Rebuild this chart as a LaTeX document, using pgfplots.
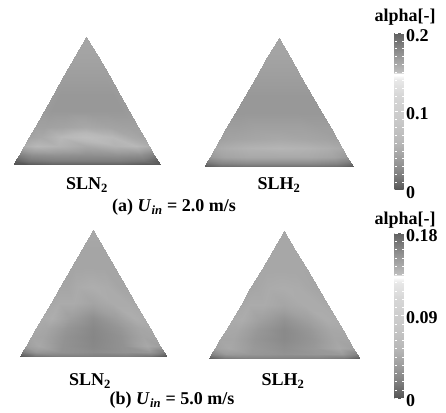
\documentclass[border=0pt]{standalone}
\usepackage{fontspec}
\setmainfont{Liberation Serif}
\usepackage{pgfplots}
\usepackage{pgfplotstable}
\pgfplotsset{compat=1.18}

\newcommand{\lbl}{\fontsize{18}{20}\selectfont\bfseries}

% grey rendering of the void-fraction colour scale
\pgfplotsset{
  colormap={alphagray}{
    gray(0cm)=(0.33); gray(10cm)=(0.42); gray(20cm)=(0.50); gray(40cm)=(0.62);
    gray(60cm)=(0.72); gray(90cm)=(0.79); gray(120cm)=(0.84); gray(140cm)=(0.91);
    gray(144cm)=(0.96); gray(146cm)=(1.0); gray(148cm)=(1.0); gray(150cm)=(0.74);
    gray(170cm)=(0.60); gray(200cm)=(0.38)
  },
  tri/.style={
    at={#1}, anchor=south west, scale only axis, hide axis, view={0}{90},
    xmin=-1, xmax=1, ymin=0, ymax=1.7321, clip=false
  },
  bar/.style={
    scale only axis, width=9pt,
    yticklabel pos=right,
    yticklabel style={font=\lbl, xshift=-1pt, yshift=-2.5pt},
    axis line style={draw=none},
    minor y tick num=9,
    tick align=inside, major tick length=3pt, minor tick length=2pt,
    tick style={color=white, line width=0.4pt}
  }
}

% cross-section mesh (rows from the bottom wall to the apex)
% A: SLN2 2.0 m/s, B: SLH2 2.0 m/s, C: SLN2 5.0 m/s, D: SLH2 5.0 m/s
\pgfplotstableread{
x y A B C D
-1 0 0 0 0.002 0.004
-0.8 0 0 0.008 0.013 0.016
-0.45 0 0.004 0.010 0.018 0.020
0 0 0.004 0.010 0.018 0.020
0.45 0 0.004 0.010 0.018 0.020
0.8 0 0 0.008 0.013 0.016
1 0 0 0 0.002 0.004
-0.97 0.0520 0.004 0.014 0.016 0.020
-0.776 0.0520 0.014 0.024 0.032 0.034
-0.4365 0.0520 0.018 0.028 0.029 0.032
0 0.0520 0.018 0.028 0.025 0.029
0.4365 0.0520 0.018 0.028 0.029 0.032
0.776 0.0520 0.014 0.024 0.032 0.034
0.97 0.0520 0.004 0.014 0.016 0.020
-0.92 0.1386 0.020 0.036 0.036 0.038
-0.736 0.1386 0.030 0.044 0.043 0.043
-0.414 0.1386 0.032 0.048 0.029 0.033
0 0.1386 0.030 0.048 0.023 0.027
0.414 0.1386 0.032 0.048 0.029 0.033
0.736 0.1386 0.030 0.044 0.043 0.043
0.92 0.1386 0.020 0.036 0.036 0.038
-0.85 0.2598 0.052 0.048 0.041 0.041
-0.68 0.2598 0.060 0.052 0.040 0.041
-0.3825 0.2598 0.056 0.056 0.029 0.031
0 0.2598 0.048 0.058 0.022 0.024
0.3825 0.2598 0.056 0.056 0.029 0.031
0.68 0.2598 0.060 0.052 0.040 0.041
0.85 0.2598 0.052 0.048 0.041 0.041
-0.78 0.3811 0.044 0.042 0.043 0.043
-0.624 0.3811 0.048 0.044 0.041 0.042
-0.351 0.3811 0.060 0.046 0.031 0.032
0 0.3811 0.070 0.048 0.023 0.024
0.351 0.3811 0.060 0.046 0.031 0.032
0.624 0.3811 0.048 0.044 0.041 0.042
0.78 0.3811 0.044 0.042 0.043 0.043
-0.70 0.5196 0.042 0.040 0.045 0.045
-0.56 0.5196 0.042 0.040 0.047 0.046
-0.315 0.5196 0.044 0.042 0.036 0.037
0 0.5196 0.048 0.042 0.027 0.029
0.315 0.5196 0.044 0.042 0.036 0.037
0.56 0.5196 0.042 0.040 0.047 0.046
0.70 0.5196 0.042 0.040 0.045 0.045
-0.58 0.7275 0.038 0.036 0.043 0.043
-0.464 0.7275 0.036 0.036 0.045 0.045
-0.261 0.7275 0.036 0.036 0.045 0.045
0 0.7275 0.036 0.036 0.040 0.041
0.261 0.7275 0.036 0.036 0.045 0.045
0.464 0.7275 0.036 0.036 0.045 0.045
0.58 0.7275 0.038 0.036 0.043 0.043
-0.45 0.9526 0.038 0.036 0.041 0.041
-0.36 0.9526 0.036 0.036 0.041 0.042
-0.2025 0.9526 0.036 0.036 0.045 0.045
0 0.9526 0.036 0.036 0.047 0.046
0.2025 0.9526 0.036 0.036 0.045 0.045
0.36 0.9526 0.036 0.036 0.041 0.042
0.45 0.9526 0.038 0.036 0.041 0.041
-0.30 1.2124 0.040 0.040 0.041 0.042
-0.24 1.2124 0.040 0.040 0.041 0.042
-0.135 1.2124 0.040 0.040 0.041 0.042
0 1.2124 0.040 0.040 0.041 0.042
0.135 1.2124 0.040 0.040 0.041 0.042
0.24 1.2124 0.040 0.040 0.041 0.042
0.30 1.2124 0.040 0.040 0.041 0.042
-0.15 1.4722 0.044 0.044 0.041 0.042
-0.12 1.4722 0.044 0.044 0.041 0.042
-0.0675 1.4722 0.044 0.044 0.041 0.042
0 1.4722 0.044 0.044 0.041 0.042
0.0675 1.4722 0.044 0.044 0.041 0.042
0.12 1.4722 0.044 0.044 0.041 0.042
0.15 1.4722 0.044 0.044 0.041 0.042
0 1.7321 0.046 0.046 0.043 0.043
0 1.7321 0.046 0.046 0.043 0.043
0 1.7321 0.046 0.046 0.043 0.043
0 1.7321 0.046 0.046 0.043 0.043
0 1.7321 0.046 0.046 0.043 0.043
0 1.7321 0.046 0.046 0.043 0.043
0 1.7321 0.046 0.046 0.043 0.043
}\mesh

\begin{document}
\begin{tikzpicture}[x=1pt,y=1pt]
\path[use as bounding box, fill=white] (0,0) rectangle (446,412);

% (a) U_in = 2.0 m/s
\begin{axis}[tri={(13pt,247pt)}, width=147pt, height=128pt,
  point meta min=0, point meta max=0.2]
\addplot3[surf, shader=interp, mesh/cols=7, point meta=\thisrow{A}]
  table[x=x, y=y, z=A] {\mesh};
\end{axis}

\begin{axis}[tri={(204pt,245pt)}, width=149pt, height=129pt,
  point meta min=0, point meta max=0.2,
  colorbar,
  colorbar style={bar, at={(parent axis.south east)}, anchor=south west,
    xshift=33pt, yshift=-23pt, height=157pt,
    ytick={0,0.1,0.2}, yticklabels={0,0.1,0.2}}]
\addplot3[surf, shader=interp, mesh/cols=7, point meta=\thisrow{B}]
  table[x=x, y=y, z=B] {\mesh};
\end{axis}

% (b) U_in = 5.0 m/s
\begin{axis}[tri={(20pt,56pt)}, width=146pt, height=126pt,
  point meta min=0, point meta max=0.18]
\addplot3[surf, shader=interp, mesh/cols=7, point meta=\thisrow{C}]
  table[x=x, y=y, z=C] {\mesh};
\end{axis}

\begin{axis}[tri={(209pt,54pt)}, width=150pt, height=127pt,
  point meta min=0, point meta max=0.18,
  colorbar,
  colorbar style={bar, at={(parent axis.south east)}, anchor=south west,
    xshift=27pt, yshift=-40pt, height=165pt,
    ytick={0,0.09,0.18}, yticklabels={0,0.09,0.18}}]
\addplot3[surf, shader=interp, mesh/cols=7, point meta=\thisrow{D}]
  table[x=x, y=y, z=D] {\mesh};
\end{axis}

% labels
\node[font=\lbl] at (87,227) {SLN\textsubscript{2}};
\node[font=\lbl] at (279,227) {SLH\textsubscript{2}};
\node[font=\lbl] at (174,205) {(a) \textit{U}\textsubscript{\textit{in}} = 2.0 m/s};
\node[font=\lbl] at (405,395) {alpha[-]};

\node[font=\lbl] at (90,31) {SLN\textsubscript{2}};
\node[font=\lbl] at (283,31) {SLH\textsubscript{2}};
\node[font=\lbl] at (172,12) {(b) \textit{U}\textsubscript{\textit{in}} = 5.0 m/s};
\node[font=\lbl] at (405,192) {alpha[-]};
\end{tikzpicture}
\end{document}
